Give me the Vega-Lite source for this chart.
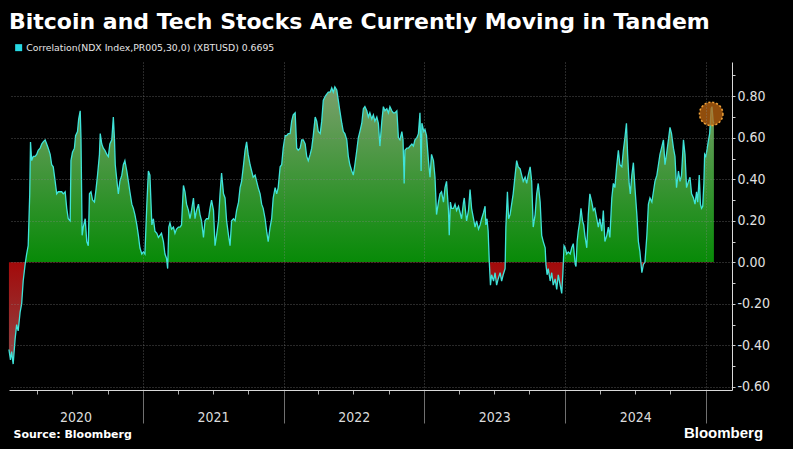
{
  "$schema": "https://vega.github.io/schema/vega-lite/v6.json",
  "width": 723,
  "height": 328,
  "autosize": {"type": "none"},
  "padding": {"left": 9, "top": 62, "right": 61, "bottom": 59},
  "background": "#000000",
  "config": {"view": {"stroke": null}, "font": "DejaVu Sans"},
  "title": {
    "text": "Bitcoin and Tech Stocks Are Currently Moving in Tandem",
    "anchor": "start", "frame": "group", "orient": "top",
    "font": "DejaVu Sans", "fontSize": 22, "fontWeight": "bold", "color": "#ffffff",
    "baseline": "alphabetic", "offset": 14, "dx": 0, "dy": 22
  },
  "data": {
    "format": {"parse": {"date": "date:'%Y-%j'"}},
    "values": [
      {"date":"2020-019","value":-0.42},{"date":"2020-023","value":-0.47},{"date":"2020-026","value":-0.43},{"date":"2020-030","value":-0.49},
      {"date":"2020-035","value":-0.37},{"date":"2020-039","value":-0.30},{"date":"2020-043","value":-0.33},{"date":"2020-048","value":-0.24},
      {"date":"2020-052","value":-0.20},{"date":"2020-056","value":-0.09},{"date":"2020-061","value":-0.01},{"date":"2020-065","value":0.04},
      {"date":"2020-069","value":0.08},{"date":"2020-073","value":0.33},{"date":"2020-075","value":0.58},{"date":"2020-078","value":0.49},
      {"date":"2020-082","value":0.51},{"date":"2020-087","value":0.51},{"date":"2020-091","value":0.52},{"date":"2020-095","value":0.54},
      {"date":"2020-100","value":0.55},{"date":"2020-104","value":0.57},{"date":"2020-108","value":0.58},{"date":"2020-113","value":0.59},
      {"date":"2020-117","value":0.57},{"date":"2020-121","value":0.55},{"date":"2020-126","value":0.52},{"date":"2020-130","value":0.47},
      {"date":"2020-134","value":0.46},{"date":"2020-139","value":0.39},{"date":"2020-143","value":0.33},{"date":"2020-147","value":0.34},
      {"date":"2020-152","value":0.34},{"date":"2020-156","value":0.34},{"date":"2020-160","value":0.33},{"date":"2020-165","value":0.34},
      {"date":"2020-169","value":0.26},{"date":"2020-173","value":0.21},{"date":"2020-178","value":0.20},{"date":"2020-180","value":0.49},
      {"date":"2020-184","value":0.53},{"date":"2020-189","value":0.55},{"date":"2020-192","value":0.61},{"date":"2020-197","value":0.63},
      {"date":"2020-200","value":0.69},{"date":"2020-204","value":0.73},{"date":"2020-206","value":0.60},{"date":"2020-209","value":0.13},
      {"date":"2020-212","value":0.17},{"date":"2020-217","value":0.21},{"date":"2020-221","value":0.10},{"date":"2020-225","value":0.08},
      {"date":"2020-228","value":0.33},{"date":"2020-232","value":0.34},{"date":"2020-236","value":0.30},{"date":"2020-241","value":0.29},
      {"date":"2020-245","value":0.35},{"date":"2020-249","value":0.42},{"date":"2020-254","value":0.52},{"date":"2020-256","value":0.62},
      {"date":"2020-260","value":0.57},{"date":"2020-264","value":0.55},{"date":"2020-268","value":0.54},{"date":"2020-273","value":0.52},
      {"date":"2020-277","value":0.51},{"date":"2020-281","value":0.57},{"date":"2020-286","value":0.59},{"date":"2020-290","value":0.70},
      {"date":"2020-293","value":0.59},{"date":"2020-295","value":0.47},{"date":"2020-300","value":0.38},{"date":"2020-303","value":0.33},
      {"date":"2020-307","value":0.39},{"date":"2020-312","value":0.42},{"date":"2020-316","value":0.47},{"date":"2020-320","value":0.49},
      {"date":"2020-325","value":0.44},{"date":"2020-329","value":0.39},{"date":"2020-333","value":0.34},{"date":"2020-338","value":0.28},
      {"date":"2020-342","value":0.26},{"date":"2020-346","value":0.23},{"date":"2020-351","value":0.18},{"date":"2020-355","value":0.13},
      {"date":"2020-359","value":0.07},{"date":"2020-364","value":0.04},
      {"date":"2021-002","value":0.05},{"date":"2021-006","value":0.04},{"date":"2021-011","value":0.28},{"date":"2021-015","value":0.44},
      {"date":"2021-019","value":0.42},{"date":"2021-024","value":0.18},{"date":"2021-028","value":0.21},{"date":"2021-032","value":0.15},
      {"date":"2021-037","value":0.14},{"date":"2021-041","value":0.12},{"date":"2021-045","value":0.13},{"date":"2021-049","value":0.14},
      {"date":"2021-054","value":0.10},{"date":"2021-058","value":0.04},{"date":"2021-062","value":0.02},{"date":"2021-065","value":-0.03},
      {"date":"2021-068","value":0.17},{"date":"2021-071","value":0.19},{"date":"2021-075","value":0.16},{"date":"2021-080","value":0.17},
      {"date":"2021-084","value":0.14},{"date":"2021-088","value":0.16},{"date":"2021-093","value":0.17},{"date":"2021-097","value":0.17},
      {"date":"2021-101","value":0.18},{"date":"2021-106","value":0.37},{"date":"2021-110","value":0.34},{"date":"2021-114","value":0.28},
      {"date":"2021-119","value":0.25},{"date":"2021-123","value":0.21},{"date":"2021-127","value":0.25},{"date":"2021-132","value":0.31},
      {"date":"2021-136","value":0.21},{"date":"2021-140","value":0.25},{"date":"2021-145","value":0.28},{"date":"2021-149","value":0.23},
      {"date":"2021-153","value":0.20},{"date":"2021-158","value":0.12},{"date":"2021-162","value":0.20},{"date":"2021-166","value":0.21},
      {"date":"2021-171","value":0.21},{"date":"2021-175","value":0.26},{"date":"2021-179","value":0.30},{"date":"2021-184","value":0.25},
      {"date":"2021-188","value":0.08},{"date":"2021-192","value":0.13},{"date":"2021-197","value":0.20},{"date":"2021-201","value":0.33},
      {"date":"2021-205","value":0.43},{"date":"2021-210","value":0.33},{"date":"2021-214","value":0.31},{"date":"2021-218","value":0.20},
      {"date":"2021-223","value":0.13},{"date":"2021-227","value":0.08},{"date":"2021-231","value":0.20},{"date":"2021-236","value":0.21},
      {"date":"2021-240","value":0.20},{"date":"2021-244","value":0.25},{"date":"2021-249","value":0.29},{"date":"2021-253","value":0.36},
      {"date":"2021-257","value":0.39},{"date":"2021-262","value":0.47},{"date":"2021-266","value":0.54},{"date":"2021-270","value":0.58},
      {"date":"2021-274","value":0.52},{"date":"2021-279","value":0.47},{"date":"2021-283","value":0.44},{"date":"2021-287","value":0.41},
      {"date":"2021-292","value":0.42},{"date":"2021-296","value":0.39},{"date":"2021-300","value":0.36},{"date":"2021-305","value":0.33},
      {"date":"2021-309","value":0.28},{"date":"2021-313","value":0.26},{"date":"2021-318","value":0.21},{"date":"2021-322","value":0.15},
      {"date":"2021-326","value":0.10},{"date":"2021-331","value":0.17},{"date":"2021-335","value":0.21},{"date":"2021-339","value":0.31},
      {"date":"2021-344","value":0.36},{"date":"2021-348","value":0.33},{"date":"2021-352","value":0.36},{"date":"2021-357","value":0.46},
      {"date":"2021-361","value":0.47},{"date":"2021-365","value":0.55},
      {"date":"2022-005","value":0.61},{"date":"2022-009","value":0.61},{"date":"2022-013","value":0.62},{"date":"2022-018","value":0.62},
      {"date":"2022-022","value":0.68},{"date":"2022-026","value":0.71},{"date":"2022-031","value":0.72},{"date":"2022-035","value":0.55},
      {"date":"2022-039","value":0.54},{"date":"2022-044","value":0.55},{"date":"2022-048","value":0.59},{"date":"2022-052","value":0.59},
      {"date":"2022-057","value":0.57},{"date":"2022-061","value":0.51},{"date":"2022-065","value":0.49},{"date":"2022-070","value":0.52},
      {"date":"2022-074","value":0.55},{"date":"2022-078","value":0.61},{"date":"2022-083","value":0.70},{"date":"2022-087","value":0.68},
      {"date":"2022-091","value":0.63},{"date":"2022-096","value":0.62},{"date":"2022-100","value":0.68},{"date":"2022-104","value":0.78},
      {"date":"2022-109","value":0.80},{"date":"2022-113","value":0.81},{"date":"2022-117","value":0.82},{"date":"2022-122","value":0.82},
      {"date":"2022-126","value":0.84},{"date":"2022-130","value":0.82},{"date":"2022-134","value":0.845},{"date":"2022-139","value":0.83},
      {"date":"2022-143","value":0.78},{"date":"2022-147","value":0.73},{"date":"2022-152","value":0.67},{"date":"2022-156","value":0.63},
      {"date":"2022-160","value":0.62},{"date":"2022-165","value":0.59},{"date":"2022-169","value":0.51},{"date":"2022-173","value":0.47},
      {"date":"2022-178","value":0.44},{"date":"2022-182","value":0.42},{"date":"2022-186","value":0.47},{"date":"2022-191","value":0.54},
      {"date":"2022-195","value":0.60},{"date":"2022-199","value":0.63},{"date":"2022-204","value":0.67},{"date":"2022-208","value":0.74},
      {"date":"2022-212","value":0.75},{"date":"2022-217","value":0.73},{"date":"2022-221","value":0.70},{"date":"2022-225","value":0.72},
      {"date":"2022-230","value":0.69},{"date":"2022-234","value":0.71},{"date":"2022-238","value":0.68},{"date":"2022-243","value":0.70},
      {"date":"2022-247","value":0.67},{"date":"2022-251","value":0.56},{"date":"2022-256","value":0.68},{"date":"2022-260","value":0.75},
      {"date":"2022-264","value":0.73},{"date":"2022-269","value":0.74},{"date":"2022-273","value":0.72},{"date":"2022-277","value":0.75},
      {"date":"2022-282","value":0.73},{"date":"2022-286","value":0.72},{"date":"2022-290","value":0.72},{"date":"2022-295","value":0.73},
      {"date":"2022-299","value":0.60},{"date":"2022-303","value":0.59},{"date":"2022-308","value":0.63},{"date":"2022-311","value":0.59},
      {"date":"2022-314","value":0.38},{"date":"2022-316","value":0.54},{"date":"2022-321","value":0.55},{"date":"2022-325","value":0.55},
      {"date":"2022-329","value":0.56},{"date":"2022-334","value":0.57},{"date":"2022-338","value":0.56},{"date":"2022-342","value":0.59},
      {"date":"2022-347","value":0.60},{"date":"2022-351","value":0.62},{"date":"2022-355","value":0.72},{"date":"2022-358","value":0.44},
      {"date":"2022-360","value":0.67},{"date":"2022-365","value":0.63},
      {"date":"2023-003","value":0.64},{"date":"2023-007","value":0.61},{"date":"2023-012","value":0.49},{"date":"2023-016","value":0.41},
      {"date":"2023-020","value":0.52},{"date":"2023-025","value":0.49},{"date":"2023-029","value":0.41},{"date":"2023-033","value":0.23},
      {"date":"2023-038","value":0.29},{"date":"2023-042","value":0.33},{"date":"2023-046","value":0.34},{"date":"2023-051","value":0.29},
      {"date":"2023-055","value":0.36},{"date":"2023-059","value":0.39},{"date":"2023-064","value":0.25},{"date":"2023-066","value":0.13},
      {"date":"2023-069","value":0.29},{"date":"2023-072","value":0.26},{"date":"2023-077","value":0.26},{"date":"2023-081","value":0.28},
      {"date":"2023-085","value":0.25},{"date":"2023-090","value":0.27},{"date":"2023-094","value":0.24},{"date":"2023-098","value":0.21},
      {"date":"2023-103","value":0.29},{"date":"2023-105","value":0.31},{"date":"2023-108","value":0.25},{"date":"2023-111","value":0.20},
      {"date":"2023-116","value":0.25},{"date":"2023-120","value":0.35},{"date":"2023-124","value":0.26},{"date":"2023-129","value":0.21},
      {"date":"2023-133","value":0.17},{"date":"2023-137","value":0.20},{"date":"2023-142","value":0.16},{"date":"2023-146","value":0.18},
      {"date":"2023-150","value":0.21},{"date":"2023-155","value":0.24},{"date":"2023-159","value":0.27},{"date":"2023-161","value":0.18},
      {"date":"2023-164","value":0.21},{"date":"2023-167","value":0.15},{"date":"2023-170","value":0.00},{"date":"2023-173","value":-0.11},
      {"date":"2023-176","value":-0.06},{"date":"2023-181","value":-0.09},{"date":"2023-185","value":-0.05},{"date":"2023-189","value":-0.11},
      {"date":"2023-193","value":-0.08},{"date":"2023-198","value":-0.05},{"date":"2023-202","value":-0.09},{"date":"2023-206","value":-0.06},
      {"date":"2023-211","value":-0.03},{"date":"2023-213","value":0.17},{"date":"2023-217","value":0.34},{"date":"2023-220","value":0.21},
      {"date":"2023-224","value":0.23},{"date":"2023-228","value":0.28},{"date":"2023-232","value":0.33},{"date":"2023-237","value":0.42},
      {"date":"2023-241","value":0.49},{"date":"2023-245","value":0.46},{"date":"2023-250","value":0.45},{"date":"2023-254","value":0.42},
      {"date":"2023-258","value":0.39},{"date":"2023-263","value":0.41},{"date":"2023-267","value":0.38},{"date":"2023-271","value":0.42},
      {"date":"2023-276","value":0.46},{"date":"2023-280","value":0.39},{"date":"2023-284","value":0.17},{"date":"2023-289","value":0.23},
      {"date":"2023-293","value":0.33},{"date":"2023-297","value":0.38},{"date":"2023-302","value":0.29},{"date":"2023-306","value":0.13},
      {"date":"2023-310","value":0.10},{"date":"2023-315","value":0.07},{"date":"2023-317","value":-0.01},{"date":"2023-320","value":-0.06},
      {"date":"2023-323","value":-0.03},{"date":"2023-328","value":-0.09},{"date":"2023-332","value":-0.05},{"date":"2023-336","value":-0.11},
      {"date":"2023-341","value":-0.08},{"date":"2023-345","value":-0.13},{"date":"2023-349","value":-0.06},{"date":"2023-354","value":-0.11},
      {"date":"2023-358","value":-0.15},{"date":"2023-361","value":-0.05},{"date":"2023-364","value":0.08},
      {"date":"2024-002","value":0.07},{"date":"2024-006","value":0.04},{"date":"2024-010","value":0.05},{"date":"2024-015","value":0.04},
      {"date":"2024-019","value":0.07},{"date":"2024-023","value":0.09},{"date":"2024-028","value":-0.01},{"date":"2024-030","value":-0.02},
      {"date":"2024-033","value":0.10},{"date":"2024-036","value":0.15},{"date":"2024-040","value":0.20},{"date":"2024-043","value":0.26},
      {"date":"2024-047","value":0.20},{"date":"2024-050","value":0.18},{"date":"2024-053","value":0.13},{"date":"2024-058","value":0.07},
      {"date":"2024-062","value":0.23},{"date":"2024-066","value":0.33},{"date":"2024-071","value":0.29},{"date":"2024-075","value":0.25},
      {"date":"2024-079","value":0.26},{"date":"2024-084","value":0.21},{"date":"2024-088","value":0.17},{"date":"2024-092","value":0.21},
      {"date":"2024-097","value":0.15},{"date":"2024-101","value":0.25},{"date":"2024-105","value":0.10},{"date":"2024-110","value":0.13},
      {"date":"2024-114","value":0.17},{"date":"2024-118","value":0.12},{"date":"2024-123","value":0.31},{"date":"2024-127","value":0.38},
      {"date":"2024-131","value":0.36},{"date":"2024-136","value":0.47},{"date":"2024-140","value":0.54},{"date":"2024-144","value":0.47},
      {"date":"2024-149","value":0.46},{"date":"2024-153","value":0.54},{"date":"2024-157","value":0.60},{"date":"2024-161","value":0.67},
      {"date":"2024-164","value":0.52},{"date":"2024-168","value":0.38},{"date":"2024-171","value":0.33},{"date":"2024-175","value":0.42},
      {"date":"2024-179","value":0.48},{"date":"2024-183","value":0.36},{"date":"2024-188","value":0.23},{"date":"2024-192","value":0.10},
      {"date":"2024-196","value":0.05},{"date":"2024-201","value":-0.05},{"date":"2024-205","value":-0.01},{"date":"2024-209","value":0.00},
      {"date":"2024-214","value":0.13},{"date":"2024-218","value":0.28},{"date":"2024-222","value":0.31},{"date":"2024-227","value":0.29},
      {"date":"2024-231","value":0.34},{"date":"2024-235","value":0.39},{"date":"2024-240","value":0.42},{"date":"2024-244","value":0.47},
      {"date":"2024-248","value":0.52},{"date":"2024-252","value":0.55},{"date":"2024-257","value":0.59},{"date":"2024-261","value":0.47},
      {"date":"2024-265","value":0.52},{"date":"2024-270","value":0.59},{"date":"2024-274","value":0.65},{"date":"2024-278","value":0.62},
      {"date":"2024-283","value":0.55},{"date":"2024-287","value":0.51},{"date":"2024-291","value":0.36},{"date":"2024-296","value":0.44},
      {"date":"2024-300","value":0.39},{"date":"2024-304","value":0.42},{"date":"2024-309","value":0.59},{"date":"2024-313","value":0.52},
      {"date":"2024-317","value":0.36},{"date":"2024-322","value":0.39},{"date":"2024-326","value":0.41},{"date":"2024-330","value":0.33},
      {"date":"2024-335","value":0.31},{"date":"2024-339","value":0.28},{"date":"2024-343","value":0.34},{"date":"2024-346","value":0.29},
      {"date":"2024-350","value":0.42},{"date":"2024-353","value":0.28},{"date":"2024-356","value":0.26},{"date":"2024-359","value":0.27},
      {"date":"2024-362","value":0.38},{"date":"2024-364","value":0.52},
      {"date":"2025-001","value":0.51},{"date":"2025-004","value":0.54},{"date":"2025-008","value":0.59},{"date":"2025-011","value":0.62},
      {"date":"2025-015","value":0.74},{"date":"2025-017","value":0.75},{"date":"2025-020","value":0.68},{"date":"2025-022","value":0.6695}
    ]
  },
  "resolve": {"axis": {"x": "independent", "y": "independent"}},
  "layer": [
    {
      "mark": {
        "type": "area", "interpolate": "linear",
        "color": {
          "gradient": "linear", "x1": 0, "y1": 0, "x2": 0, "y2": 1,
          "stops": [
            {"offset": 0, "color": "#7aa06c"},
            {"offset": 0.633, "color": "#078a07"},
            {"offset": 0.633, "color": "#a30a0a"},
            {"offset": 1, "color": "#8e4848"}
          ]
        }
      },
      "encoding": {
        "x": {
          "field": "date", "type": "temporal",
          "scale": {"domain": [{"year": 2020, "month": 1, "date": 19, "hours": 4}, {"year": 2025, "month": 3, "date": 10}]},
          "axis": {
            "orient": "bottom",
            "values": [{"year": 2021, "month": 1, "date": 1}, {"year": 2022, "month": 1, "date": 1}, {"year": 2023, "month": 1, "date": 1}, {"year": 2024, "month": 1, "date": 1}, {"year": 2025, "month": 1, "date": 1}],
            "labels": false, "ticks": true, "tickSize": 33, "tickColor": "#707070", "tickWidth": 1,
            "domain": true, "domainColor": "#d9d9d9", "domainWidth": 1,
            "grid": true, "gridColor": "#8a8a8a", "gridOpacity": 0.6, "gridDash": [1, 2],
            "title": null, "zindex": 1
          }
        },
        "y": {
          "field": "value", "type": "quantitative",
          "scale": {"domain": [-0.615, 0.965], "nice": false, "zero": false},
          "axis": {
            "orient": "right",
            "values": [-0.6, -0.4, -0.2, 0, 0.2, 0.4, 0.6, 0.8],
            "labelExpr": "(datum.value < -0.001 ? '-' : '') + format(abs(datum.value), '.2f')",
            "labelFont": "DejaVu Sans Condensed, DejaVu Sans", "labelFontSize": 14, "labelColor": "#e2e2e2",
            "labelPadding": 2, "labelBaseline": "middle", "labelFlush": false, "labelOverlap": false,
            "ticks": true, "tickSize": 3, "tickColor": "#d0d0d0",
            "domain": true, "domainColor": "#d9d9d9", "domainWidth": 1,
            "grid": true, "gridColor": "#8a8a8a", "gridOpacity": 0.6, "gridDash": [1, 2],
            "title": "Bloomberg", "titleAngle": 0, "titleX": -9, "titleY": 375,
            "titleAlign": "center", "titleBaseline": "alphabetic",
            "titleFont": "Liberation Sans", "titleFontSize": 15, "titleFontWeight": "bold", "titleColor": "#ffffff",
            "zindex": 1
          }
        },
        "y2": {"datum": 0}
      }
    },
    {
      "mark": {"type": "line", "interpolate": "linear", "strokeWidth": 1.3},
      "encoding": {
        "x": {
          "field": "date", "type": "temporal",
          "scale": {"domain": [{"year": 2020, "month": 1, "date": 19, "hours": 4}, {"year": 2025, "month": 3, "date": 10}]},
          "axis": {
            "orient": "bottom",
            "values": [
              {"year": 2020, "month": 4, "date": 1}, {"year": 2020, "month": 7, "date": 1}, {"year": 2020, "month": 10, "date": 1},
              {"year": 2021, "month": 4, "date": 1}, {"year": 2021, "month": 7, "date": 1}, {"year": 2021, "month": 10, "date": 1},
              {"year": 2022, "month": 4, "date": 1}, {"year": 2022, "month": 7, "date": 1}, {"year": 2022, "month": 10, "date": 1},
              {"year": 2023, "month": 4, "date": 1}, {"year": 2023, "month": 7, "date": 1}, {"year": 2023, "month": 10, "date": 1},
              {"year": 2024, "month": 4, "date": 1}, {"year": 2024, "month": 7, "date": 1}, {"year": 2024, "month": 10, "date": 1}
            ],
            "labels": false, "ticks": true, "tickSize": 4, "tickColor": "#b0b0b0",
            "domain": false, "grid": false, "title": null
          }
        },
        "y": {
          "field": "value", "type": "quantitative",
          "scale": {"domain": [-0.615, 0.965], "nice": false, "zero": false},
          "axis": {
            "orient": "right",
            "values": [-0.5, -0.3, -0.1, 0.1, 0.3, 0.5, 0.7, 0.9],
            "labels": false, "ticks": true, "tickSize": 3, "tickColor": "#d0d0d0",
            "domain": false, "grid": false, "title": null
          }
        },
        "color": {
          "datum": "Correlation(NDX Index,PR005,30,0) (XBTUSD) 0.6695",
          "type": "nominal",
          "scale": {"range": ["#3fe3d9"]},
          "legend": {
            "orient": "none", "legendX": 5, "legendY": -19,
            "title": null, "padding": 0,
            "symbolType": "square", "symbolSize": 49, "symbolStrokeWidth": 0,
            "symbolFillColor": "#27d9e3",
            "labelFont": "DejaVu Sans", "labelFontSize": 9.3, "labelColor": "#e6e6e6", "labelOffset": 3,
            "labelLimit": 400,
            "encode": {"symbols": {"update": {"fill": {"value": "#27d9e3"}, "stroke": {"value": "transparent"}, "shape": {"value": "square"}}}}
          }
        }
      }
    },
    {
      "data": {
        "format": {"parse": {"date": "date:'%Y-%j'"}},
        "values": [{"date": "2025-015", "value": 0.715}]
      },
      "mark": {
        "type": "point", "shape": "circle", "filled": true, "size": 550,
        "fill": "#b8630f", "fillOpacity": 0.78,
        "stroke": "#f2a43a", "strokeWidth": 1.5, "strokeDash": [2, 2], "strokeOpacity": 1
      },
      "encoding": {
        "x": {
          "field": "date", "type": "temporal",
          "scale": {"domain": [{"year": 2020, "month": 1, "date": 19, "hours": 4}, {"year": 2025, "month": 3, "date": 10}]},
          "axis": {
            "orient": "bottom",
            "values": [{"year": 2020, "month": 7, "date": 10}, {"year": 2021, "month": 7, "date": 2}, {"year": 2022, "month": 7, "date": 2}, {"year": 2023, "month": 7, "date": 2}, {"year": 2024, "month": 7, "date": 2}],
            "format": "%Y", "ticks": false, "tickSize": 0, "domain": false, "grid": false,
            "labelFont": "DejaVu Sans Condensed, DejaVu Sans", "labelFontSize": 14, "labelColor": "#dcdcdc",
            "labelBaseline": "alphabetic", "labelPadding": 31, "labelFlush": false, "labelOverlap": false,
            "title": "Source: Bloomberg", "titleX": 4, "titleY": 47, "titleAlign": "left", "titleAnchor": "start",
            "titleBaseline": "alphabetic",
            "titleFont": "DejaVu Sans", "titleFontSize": 11, "titleFontWeight": "bold", "titleColor": "#ffffff"
          }
        },
        "y": {
          "field": "value", "type": "quantitative",
          "scale": {"domain": [-0.615, 0.965], "nice": false, "zero": false},
          "axis": null
        }
      }
    }
  ]
}
